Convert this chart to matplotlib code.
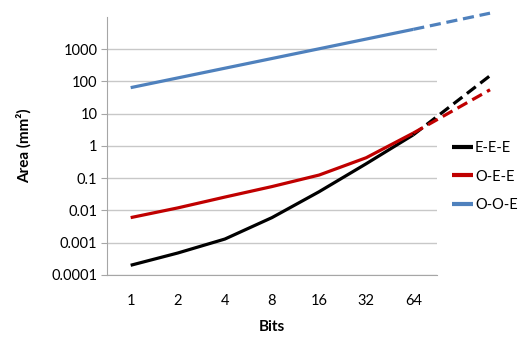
import matplotlib
matplotlib.use("Agg")
import matplotlib.pyplot as plt
import numpy as np

# --- données ---
bits = ["1", "2", "4", "8", "16", "32", "64"]
eee = [0.0002, 0.00048, 0.0013, 0.006, 0.038, 0.28, 2.2]
oee = [0.006, 0.012, 0.026, 0.055, 0.125, 0.43, 2.5]
ooe = [64, 128, 256, 512, 1024, 2048, 4096]

# extrapolation (pointillés) au-delà de 64 bits
ext_pos = 7.63
eee_ext = 150
oee_ext = 55
ooe_ext = 13000

series = [
    ("E-E-E", eee, eee_ext, "black"),
    ("O-E-E", oee, oee_ext, "#C00000"),
    ("O-O-E", ooe, ooe_ext, "#4F81BD"),
]

plt.rcParams['font.family'] = ['Lato', 'DejaVu Sans']

fig = plt.figure(figsize=(5.2, 3.37), dpi=100)
ax = fig.add_axes([0.206, 0.184, 0.634, 0.766])

x = np.arange(len(bits))
for name, vals, ext, col in series:
    ax.plot(x, vals, color=col, lw=2.3, label=name, solid_capstyle='butt', zorder=3)
    ax.plot([x[-1], ext_pos], [vals[-1], ext], color=col, lw=2.3,
            dashes=(3.5, 1.8), clip_on=False, zorder=4)

ax.set_yscale('log')
ax.set_ylim(1e-4, 1e4)
ax.set_xlim(-0.5, len(bits) - 0.5)
ax.set_xticks(x)
ax.set_xticklabels(bits)

yt = [1e-4, 1e-3, 1e-2, 1e-1, 1, 10, 100, 1000]
ax.set_yticks(yt)
ax.set_yticklabels(["0.0001", "0.001", "0.01", "0.1", "1", "10", "100", "1000"])
ax.yaxis.set_minor_locator(matplotlib.ticker.NullLocator())

ax.grid(axis='y', color='#c8c8c8', lw=1)
ax.set_axisbelow(True)
for s in ['top', 'right']:
    ax.spines[s].set_visible(False)
ax.spines['left'].set_color('#a6a6a6')
ax.spines['bottom'].set_color('#a6a6a6')
ax.tick_params(axis='y', length=4, color='#a6a6a6', labelsize=10.5, pad=3)
ax.tick_params(axis='x', length=0, labelsize=10.5, pad=14)

ax.set_xlabel("Bits", fontsize=11, fontweight='bold', labelpad=8)
ax.set_ylabel("Area (mm²)", fontsize=11, fontweight='bold', labelpad=14)

leg = ax.legend(loc='upper left', bbox_to_anchor=(1.005, 0.57), frameon=False,
                fontsize=10.5, handlelength=1.45, handletextpad=0.15, labelspacing=1.0)
for h in leg.get_lines():
    h.set_linewidth(3)

fig.savefig("out.png", dpi=100)
